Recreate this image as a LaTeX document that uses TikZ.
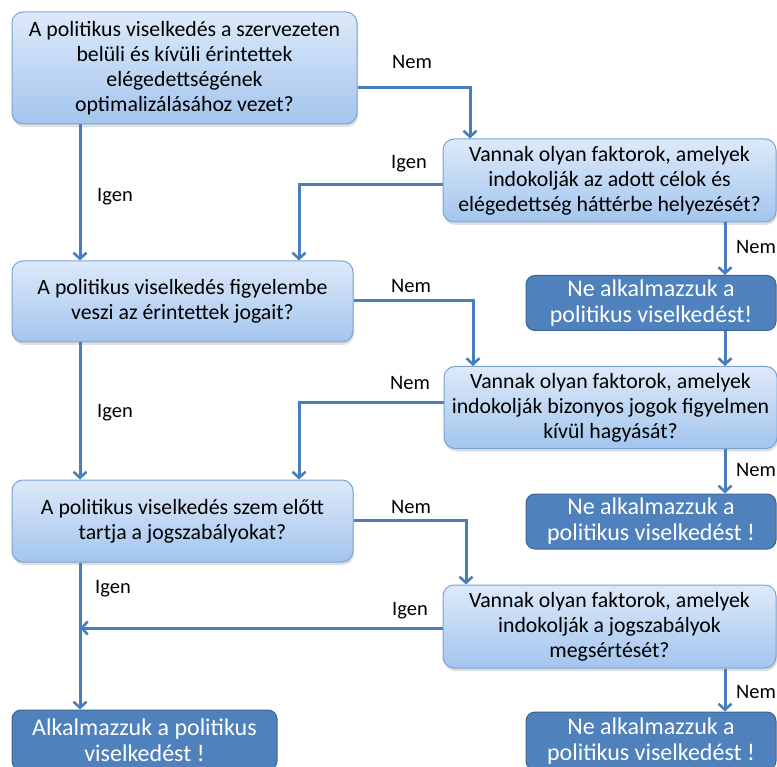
\documentclass[tikz,border=0pt]{standalone}
\usepackage{fontspec}
\setmainfont{Carlito}
\usetikzlibrary{arrows.meta,shadows}

\definecolor{qtop}{HTML}{DDE9F9}
\definecolor{qbot}{HTML}{A3C5EE}
\definecolor{qline}{HTML}{7AA3D5}
\definecolor{dfill}{HTML}{4F81BD}
\definecolor{dline}{HTML}{3B6598}
\definecolor{flow}{HTML}{4A7EBB}

\tikzset{
  qbox/.style={draw=qline, line width=1pt, rounded corners=11pt,
    top color=qtop, bottom color=qbot, align=center, inner sep=0pt,
    font=\fontsize{21.8}{25}\selectfont, text=black,
    drop shadow={opacity=0.25, shadow xshift=1pt, shadow yshift=-3pt}},
  dbox/.style={draw=dline, line width=1pt, rounded corners=9pt,
    fill=dfill, align=center, inner sep=0pt, text=white,
    font=\fontsize{24}{26}\selectfont},
  arr/.style={draw=flow, line width=3pt,
    -{Straight Barb[length=6pt,width=13pt,line width=2.6pt]}},
  lbl/.style={font=\fontsize{20.5}{22}\selectfont, inner sep=0pt}
}

\begin{document}
\begin{tikzpicture}[x=1pt,y=-1pt]
\useasboundingbox (0,0) rectangle (777,767);

% question boxes (left column)
\node[qbox, minimum width=345pt, minimum height=112pt] (q1) at (184.5,68)
  {A politikus viselkedés a szervezeten\\belüli és kívüli érintettek\\elégedettségének\\optimalizálásához vezet?};
\node[qbox, minimum width=341pt, minimum height=81pt] (q2) at (182.5,301.5)
  {A politikus viselkedés figyelembe\\veszi az érintettek jogait?};
\node[qbox, minimum width=341pt, minimum height=82pt] (q3) at (182.5,521)
  {A politikus viselkedés szem előtt\\tartja a jogszabályokat?};

% factor boxes (right column)
\node[qbox, minimum width=333pt, minimum height=83pt] (f1) at (609.5,180.5)
  {Vannak olyan faktorok, amelyek\\indokolják az adott célok és\\elégedettség háttérbe helyezését?};
\node[qbox, minimum width=333pt, minimum height=82pt] (f2) at (610.5,407.5)
  {Vannak olyan faktorok, amelyek\\indokolják bizonyos jogok figyelmen\\kívül hagyását?};
\node[qbox, minimum width=333pt, minimum height=83pt] (f3) at (609.5,626.5)
  {Vannak olyan faktorok, amelyek\\indokolják a jogszabályok\\megsértését?};

% outcome boxes
\node[dbox, minimum width=250pt, minimum height=55pt] (n1) at (651,303)
  {Ne alkalmazzuk a\\politikus viselkedést!};
\node[dbox, minimum width=250pt, minimum height=55pt] (n2) at (651,521.5)
  {Ne alkalmazzuk a\\politikus viselkedést !};
\node[dbox, minimum width=250pt, minimum height=58pt] (n3) at (651,741)
  {Ne alkalmazzuk a\\politikus viselkedést !};
\node[dbox, minimum width=265pt, minimum height=60pt] (ok) at (144.5,740)
  {Alkalmazzuk a politikus\\viselkedést !};

% connectors
\draw[arr] (q1.east |- 0,88) -| (470,0 |- f1.north);
\draw[arr] (q1.south -| 80,0) -- (q2.north -| 80,0);
\draw[arr] (f1.west |- 0,185) -| (299,0 |- q2.north);
\draw[arr] (f1.south -| 725,0) -- (n1.north -| 725,0);
\draw[arr] (n1.south -| 725,0) -- (f2.north -| 725,0);
\draw[arr] (q2.east |- 0,301) -| (473,0 |- f2.north);
\draw[arr] (q2.south -| 80,0) -- (q3.north -| 80,0);
\draw[arr] (f2.west |- 0,403) -| (299,0 |- q3.north);
\draw[arr] (f2.south -| 725,0) -- (n2.north -| 725,0);
\draw[arr] (q3.east |- 0,520) -| (466,0 |- f3.north);
\draw[arr] (q3.south -| 80,0) -- (ok.north -| 80,0);
\coordinate (join) at (80,628);
\draw[arr] (f3.west |- 0,628) -- (join);
\draw[arr] (f3.south -| 725,0) -- (n3.north -| 725,0);

% branch labels
\node[lbl] at (412,62) {Nem};
\node[lbl] at (115,197) {Igen};
\node[lbl] at (409,164) {Igen};
\node[lbl] at (756,247) {Nem};
\node[lbl] at (411,286) {Nem};
\node[lbl] at (115,413) {Igen};
\node[lbl] at (410,383) {Nem};
\node[lbl] at (756,470) {Nem};
\node[lbl] at (411,507) {Nem};
\node[lbl] at (113,589) {Igen};
\node[lbl] at (410,611) {Igen};
\node[lbl] at (756,692) {Nem};
\end{tikzpicture}
\end{document}
